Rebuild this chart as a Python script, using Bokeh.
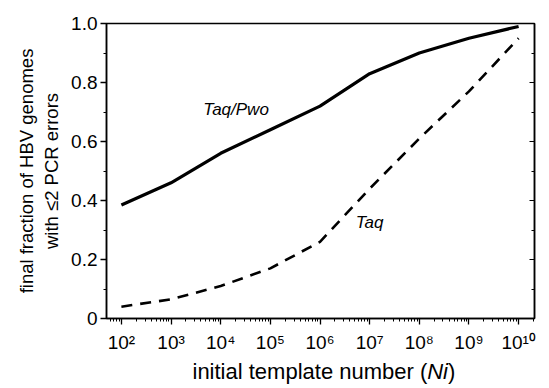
from bokeh.plotting import figure
from bokeh.models import FixedTicker, Range1d, Label, LinearAxis
from bokeh.layouts import column
from bokeh.embed import file_html
from bokeh.resources import INLINE

# data
exponents = [2, 3, 4, 5, 6, 7, 8, 9, 10]
template_n = [10.0 ** e for e in exponents]
taq_pwo = [0.385, 0.46, 0.56, 0.64, 0.72, 0.83, 0.90, 0.95, 0.99]
taq = [0.04, 0.065, 0.11, 0.17, 0.26, 0.44, 0.61, 0.77, 0.95]
x_tick_labels = ["10²", "10³", "10⁴", "10⁵", "10⁶", "10⁷", "10⁸", "10⁹", "10¹⁰"]
y_ticks = [0, 0.2, 0.4, 0.6, 0.8, 1.0]
y_minor = [0.1, 0.3, 0.5, 0.7, 0.9]
y_tick_labels = ["0", "0.2", "0.4", "0.6", "0.8", "1.0"]
series_names = ["Taq/Pwo", "Taq"]
label_x = [10 ** 3.65, 10 ** 6.72]
label_y = [0.71, 0.325]
x_title_parts = ["initial template number (", "Ni", ")"]
x_title_styles = ["normal", "italic", "normal"]

FONT = "Liberation Sans"
XMIN, XMAX = 10 ** 1.70, 10 ** 10.32
W = 541
LEFT, RIGHT = 106, 7

p = figure(width=W, height=356, x_axis_type="log",
           x_range=Range1d(XMIN, XMAX), y_range=Range1d(0, 1.0),
           output_backend="svg", toolbar_location=None,
           min_border_left=LEFT, min_border_right=RIGHT, min_border_top=23, min_border_bottom=38)

p.line(template_n, taq_pwo, line_color="black", line_width=3.2)
p.line(template_n, taq, line_color="black", line_width=2.6, line_dash="11 8")

for name, lx, ly in zip(series_names, label_x, label_y):
    p.add_layout(Label(x=lx, y=ly, text=name, text_font=FONT, text_font_style="italic",
                       text_font_size="17px", text_color="black",
                       text_baseline="middle", text_align="left"))

minor = []
for e in range(1, 11):
    for k in range(2, 10):
        minor.append(k * 10.0 ** e)

p.xaxis.ticker = FixedTicker(ticks=template_n, minor_ticks=minor)
p.xaxis.major_label_overrides = {t: l for t, l in zip(template_n, x_tick_labels)}
p.yaxis.ticker = FixedTicker(ticks=y_ticks, minor_ticks=y_minor)
p.yaxis.major_label_overrides = {t: l for t, l in zip(y_ticks, y_tick_labels)}

p.yaxis.axis_label = "final fraction of HBV genomes\nwith ≤2 PCR errors"

for ax in [p.xaxis[0], p.yaxis[0]]:
    ax.axis_line_width = 1.5
    ax.axis_line_color = "black"
    ax.major_tick_line_color = "black"
    ax.minor_tick_line_color = "black"
    ax.major_tick_line_width = 1.3
    ax.minor_tick_line_width = 1.0
    ax.major_tick_out = 6
    ax.major_tick_in = 0
    ax.minor_tick_out = 3
    ax.minor_tick_in = 0
    ax.major_label_text_font = FONT
    ax.major_label_text_font_size = "19px"
    ax.major_label_text_color = "black"
    ax.axis_label_text_font = FONT
    ax.axis_label_text_font_size = "18.5px"
    ax.axis_label_text_font_style = "normal"
    ax.axis_label_text_color = "black"

p.yaxis.major_label_standoff = 3
p.xaxis.major_label_standoff = 7
p.yaxis.axis_label_standoff = 6

# right axis: inward ticks, no labels
ra = LinearAxis(ticker=FixedTicker(ticks=y_ticks, minor_ticks=y_minor),
                major_label_overrides={t: "" for t in y_ticks},
                major_tick_in=5, major_tick_out=0,
                minor_tick_in=3, minor_tick_out=0, axis_line_width=1.5,
                major_tick_line_color="black", minor_tick_line_color="black")
p.add_layout(ra, "right")

p.grid.visible = False
p.outline_line_color = "black"
p.outline_line_width = 1.5
p.background_fill_color = "white"
p.border_fill_color = "white"

# x axis title strip (mixed normal / italic text); x data units = page pixels
TH = 30
t = figure(width=W, height=TH, x_range=Range1d(LEFT, W - RIGHT), y_range=Range1d(0, TH),
           output_backend="svg", toolbar_location=None,
           x_axis_location=None, y_axis_location=None,
           min_border_left=LEFT, min_border_right=RIGHT, min_border_top=0, min_border_bottom=0)
t.grid.visible = False
t.outline_line_color = None
t.border_fill_color = "white"
t.background_fill_color = "white"
x_starts = [192.0, 426.7, 447.5]
for txt, style, xs in zip(x_title_parts, x_title_styles, x_starts):
    t.add_layout(Label(x=xs, y=15, text=txt, text_font=FONT, text_font_style=style,
                       text_font_size="22px", text_color="black",
                       text_align="left", text_baseline="middle"))

layout = column(p, t, spacing=0)
open("out.html", "w").write(file_html(layout, INLINE))
